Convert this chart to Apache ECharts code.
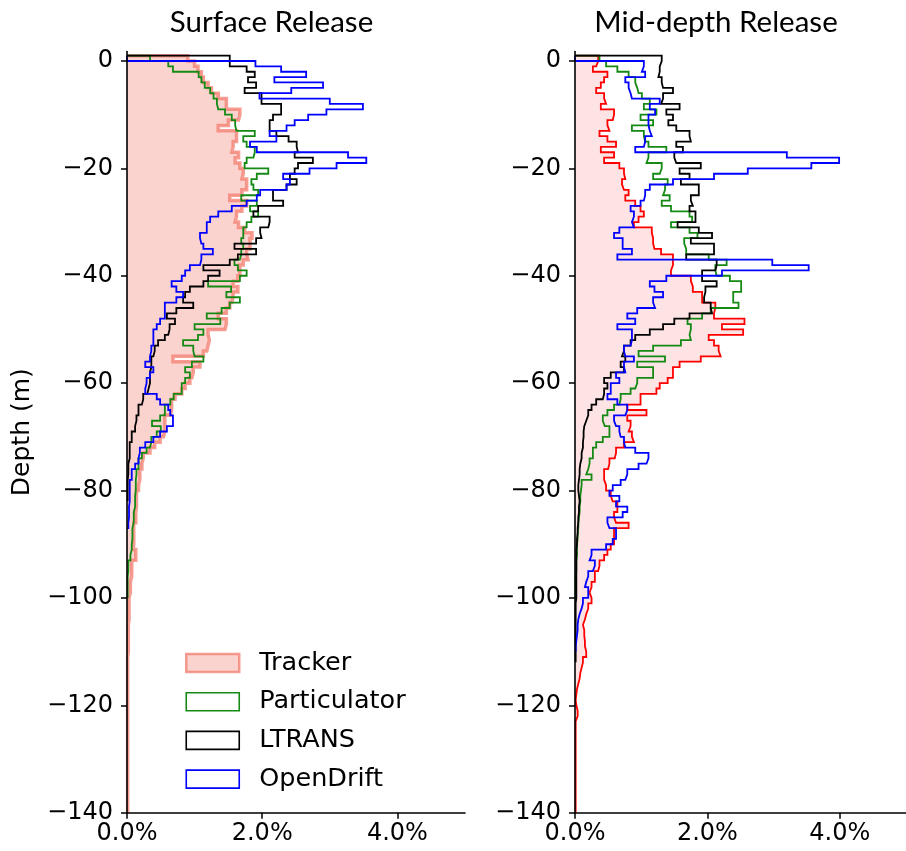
<!DOCTYPE html>
<html>
<head>
<meta charset="utf-8">
<script src="https://cdn.jsdelivr.net/npm/echarts@6.0.0/dist/echarts.min.js"></script>
<style>
  html, body { margin: 0; padding: 0; background: #ffffff; }
  #chart { width: 906px; height: 851px; }
</style>
</head>
<body>
<div id="chart"></div>
<script>
// ---------------- data (percent of particles per 1 m depth bin) ----------------
// Bin 0 spans +1..0 m, bin k spans -(k-1)..-k m.
const binTopEdge = 1;
const binWidth = 1;

const panelTitles = ['Surface Release', 'Mid-depth Release'];
const seriesNames = ['Tracker', 'Particulator', 'LTRANS', 'OpenDrift'];
const xTickValues = [0, 2, 4];
const yTickValues = [-140, -120, -100, -80, -60, -40, -20, 0];

const surfTracker = [
  0.90,
  1.00,1.05,1.10,1.13,1.20,1.25,1.35,1.47,1.47,1.67,
  1.65,1.50,1.35,1.62,1.62,1.57,1.55,1.65,1.60,1.67,
  1.72,1.70,1.77,1.77,1.70,1.52,1.77,1.70,1.62,1.60,
  1.65,1.74,1.85,1.82,1.82,1.77,1.79,1.72,1.67,1.67,
  1.64,1.57,1.64,1.57,1.55,1.52,1.47,1.35,1.47,1.45,
  1.20,1.22,1.20,1.18,1.13,0.68,1.08,0.98,0.96,0.93,
  0.86,0.81,0.71,0.66,0.66,0.64,0.56,0.56,0.56,0.54,
  0.49,0.41,0.34,0.24,0.22,0.22,0.19,0.19,0.17,0.17,
  0.14,0.14,0.14,0.13,0.13,0.13,0.10,0.10,0.10,0.10,
  0.09,0.13,0.13,0.07,0.07,0.07,0.05,0.05,0.05,0.03,
  0.03,0.03,0.03,0.03,0.02,0.02,0.02,0.02,0.02,0.02,
  0.01,0.01,0.01,0.01,0.01,0.01,0.01,0.01,0.01,0.01,
  0.01,0.01,0.01,0.01,0.01,0.01,0.01,0.01,0.01,0.01,
  0.01,0.01,0.01,0.01,0.01,0.01,0.01,0.01,0.01,0.01
];
const surfParticulator = [
  0.34,
  0.61,0.68,1.06,1.10,1.15,1.23,1.28,1.33,1.35,1.45,
  1.55,1.60,1.62,1.89,1.72,1.77,1.89,1.87,1.77,1.74,
  2.09,1.92,1.84,1.87,1.94,1.69,1.92,1.82,1.94,1.84,
  1.77,1.72,1.72,1.69,1.72,1.69,1.67,1.59,1.64,1.77,
  1.67,1.20,1.54,1.47,1.67,1.52,1.40,1.18,1.38,1.00,
  1.13,1.05,0.83,0.98,1.00,1.13,0.96,0.86,0.93,0.86,
  0.81,0.81,0.69,0.64,0.56,0.56,0.49,0.37,0.50,0.44,
  0.36,0.34,0.29,0.22,0.17,0.17,0.14,0.13,0.13,0.13,
  0.12,0.12,0.12,0.10,0.10,0.10,0.08,0.08,0.08,0.07,
  0.07,0.05,0.05,0.02,0.02,0.01,0.01,0.01,0.01,0.01
];
const surfLTRANS = [
  1.52,
  1.52,1.77,1.89,1.79,1.91,1.74,1.99,1.99,2.28,2.28,
  2.16,2.11,2.11,2.21,2.39,2.51,2.53,2.48,2.75,2.53,
  2.48,2.41,2.51,2.36,2.16,2.16,2.31,1.94,1.87,2.11,
  2.09,1.97,1.99,1.91,1.59,1.91,1.64,1.52,1.13,1.37,
  1.20,1.13,0.93,0.86,0.83,0.98,0.73,0.59,0.71,0.63,
  0.61,0.56,0.46,0.41,0.39,0.36,0.36,0.34,0.34,0.34,
  0.32,0.30,0.24,0.22,0.17,0.17,0.14,0.12,0.12,0.07,
  0.07,0.04,0.04,0.04,0.02,0.02,0.02,0.01,0.01,0.01,
  0.01,0.01
];
const surfOpenDrift = [
  0,
  1.90,2.28,2.65,2.18,2.90,2.43,1.96,3.00,3.49,2.95,
  2.68,2.48,2.36,2.11,2.21,1.82,1.92,3.27,3.54,3.10,
  2.70,2.31,2.41,2.36,1.97,1.92,1.77,1.55,1.35,1.23,
  1.18,1.18,1.08,1.10,1.13,1.27,1.10,1.08,0.93,0.86,
  0.81,0.66,0.73,0.83,0.73,0.56,0.56,0.56,0.49,0.44,
  0.39,0.39,0.39,0.36,0.34,0.34,0.27,0.39,0.34,0.29,
  0.27,0.27,0.44,0.49,0.61,0.64,0.68,0.68,0.59,0.49,
  0.39,0.27,0.19,0.17,0.17,0.12,0.07,0.07,0.04,0.04,
  0.04,0.04,0.03,0.03,0.03,0.02,0.02
];

const midTracker = [
  0.35,
  0.32,0.27,0.49,0.44,0.39,0.32,0.44,0.47,0.39,0.59,
  0.57,0.49,0.52,0.37,0.49,0.62,0.39,0.59,0.44,0.67,
  0.74,0.76,0.71,0.74,0.81,0.76,0.91,0.99,1.04,0.96,
  0.89,1.16,1.18,1.18,1.20,1.30,1.48,1.48,1.45,1.45,
  1.75,1.78,1.78,1.92,1.92,2.12,2.10,2.10,2.56,2.22,
  2.54,2.02,2.10,2.17,2.20,1.90,1.58,1.48,1.48,1.40,
  1.28,1.23,0.99,0.99,0.79,1.08,0.79,0.84,0.81,0.86,
  0.89,0.74,0.62,0.60,0.52,0.50,0.44,0.44,0.47,0.47,
  0.54,0.57,0.64,0.64,0.59,0.62,0.81,0.59,0.59,0.59,
  0.54,0.49,0.44,0.37,0.35,0.30,0.30,0.25,0.22,0.25,
  0.25,0.20,0.17,0.15,0.12,0.14,0.14,0.15,0.15,0.17,
  0.17,0.12,0.10,0.08,0.07,0.05,0.03,0.02,0.01,0.02,
  0.04,0.04,0.01,0.01,0.01,0.01,0.01,0.01,0.01,0.01,
  0.01,0.01,0.01,0.01,0.01,0.01,0.01,0.01,0.01,0.01
];
const midParticulator = [
  0.37,
  0.47,0.64,0.81,0.91,0.94,0.96,1.01,1.13,1.04,1.23,
  0.99,1.18,0.86,1.04,1.06,1.11,1.38,1.11,1.08,1.31,
  1.28,1.18,1.40,1.36,1.33,1.43,1.31,1.45,1.73,1.77,
  1.45,1.73,1.85,1.65,1.68,1.68,2.02,2.29,2.12,2.14,
  2.34,2.51,2.51,2.39,2.39,2.47,2.05,1.92,1.70,1.75,
  1.73,1.75,1.60,1.18,0.96,1.36,0.94,1.18,1.18,0.94,
  0.91,0.84,0.69,0.67,0.59,0.49,0.42,0.45,0.52,0.52,
  0.42,0.32,0.27,0.27,0.22,0.20,0.17,0.25,0.10,0.09,
  0.08,0.08,0.07,0.07,0.06,0.05,0.05,0.04,0.04,0.03,
  0.03,0.03,0.02,0.02,0.02,0.01,0.01,0.01,0.01,0.01
];
const midLTRANS = [
  1.31,
  1.28,1.28,1.26,1.31,1.33,1.48,1.33,1.30,1.58,1.38,
  1.48,1.41,1.53,1.73,1.75,1.53,1.63,1.50,1.53,1.90,
  1.58,1.73,1.60,1.87,1.87,1.75,1.78,1.73,1.82,1.82,
  1.55,1.87,2.07,1.75,2.10,2.10,1.68,2.14,2.12,1.92,
  1.92,2.14,1.97,1.95,1.95,2.05,2.07,1.73,1.50,1.33,
  1.13,0.91,0.84,0.74,0.71,0.76,0.69,0.74,0.54,0.44,
  0.49,0.44,0.42,0.32,0.25,0.20,0.17,0.14,0.13,0.13,
  0.12,0.12,0.10,0.10,0.08,0.07,0.07,0.06,0.05,0.05,
  0.06,0.07,0.06,0.06,0.05,0.05,0.04,0.04,0.03,0.03,
  0.02,0.02,0.02,0.02,0.02,0.02,0.02,0.02,0.02,0.02,
  0.01,0.01,0.01,0.01,0.01,0.01,0.01,0.01,0.01,0.01,
  0.01,0.01
];
const midOpenDrift = [
  0,
  1.04,1.01,1.06,0.76,0.81,0.84,0.86,1.28,1.13,1.21,
  1.11,1.11,1.13,1.16,1.06,1.04,0.91,3.20,3.99,3.57,
  2.61,2.10,1.48,1.13,1.06,1.04,0.99,0.84,0.89,0.86,
  0.89,0.67,0.59,0.72,0.72,0.86,0.64,2.98,3.53,2.22,
  1.38,1.13,1.20,1.33,1.18,1.21,0.94,0.79,0.91,0.64,
  0.86,0.86,0.84,0.74,0.76,0.89,0.74,0.76,0.62,0.67,
  0.54,0.54,0.49,0.64,0.79,0.76,0.59,0.62,0.67,0.69,
  0.74,0.76,0.91,1.11,1.08,0.96,0.79,0.76,0.69,0.57,
  0.52,0.67,0.62,0.79,0.72,0.49,0.52,0.62,0.62,0.57,
  0.47,0.25,0.22,0.30,0.27,0.20,0.17,0.15,0.20,0.20,
  0.12,0.10,0.07,0.05,0.04,0.04,0.03,0.02,0.01,0.01
];

// ---------------- helpers ----------------
const FONT = 'DejaVu Sans';
const TITLE_FONT = 'Lato';

// outline of a step histogram (horizontal orientation) built from bin values
function stepPoints(vals) {
  const pts = [[0, binTopEdge]];
  vals.forEach((v, i) => {
    const top = binTopEdge - i * binWidth;
    const bot = top - binWidth;
    pts.push([v, top], [v, bot]);
  });
  pts.push([0, binTopEdge - vals.length * binWidth]);
  return pts;
}

function fillSeries(vals, idx, color, name) {
  return {
    type: 'custom', name: name, xAxisIndex: idx, yAxisIndex: idx,
    z: 1, silent: true, animation: false, clip: true,
    data: vals.map((v, i) => [v, binTopEdge - i * binWidth, binTopEdge - (i + 1) * binWidth]),
    encode: { x: 0, y: [1, 2] },
    renderItem: function (params, api) {
      const a = api.coord([0, api.value(1)]);
      const b = api.coord([api.value(0), api.value(2)]);
      return {
        type: 'rect',
        shape: { x: a[0], y: a[1] - 0.4, width: b[0] - a[0], height: b[1] - a[1] + 0.8 },
        style: { fill: color }
      };
    }
  };
}

function lineSeries(vals, idx, color, width, name, z) {
  return {
    type: 'line', name: name, xAxisIndex: idx, yAxisIndex: idx,
    data: stepPoints(vals),
    showSymbol: false, symbol: 'none', silent: true, animation: false, clip: true,
    z: z,
    lineStyle: { color: color, width: width, join: 'miter' },
    itemStyle: { color: color }
  };
}

const tickLabelStyle = { fontFamily: FONT, fontSize: 24, color: '#000' };

function makeXAxis(idx) {
  return {
    type: 'value', gridIndex: idx, min: 0, max: 5, interval: 1, z: 10,
    axisLine: { show: true, onZero: false, lineStyle: { color: '#000', width: 1.6 } },
    axisTick: { show: true, length: 6, customValues: xTickValues, lineStyle: { color: '#000', width: 1.5 } },
    axisLabel: Object.assign({
      customValues: xTickValues, margin: 9,
      formatter: v => v.toFixed(1) + '%'
    }, tickLabelStyle),
    splitLine: { show: false }
  };
}
function makeYAxis(idx, withName) {
  const ax = {
    type: 'value', gridIndex: idx, min: -140, max: 1.75, interval: 20, z: 10,
    axisLine: { show: true, onZero: false, lineStyle: { color: '#000', width: 1.6 } },
    axisTick: { show: true, length: 6, customValues: yTickValues, lineStyle: { color: '#000', width: 1.5 } },
    axisLabel: Object.assign({
      customValues: yTickValues, margin: 14,
      formatter: v => (v === 0 ? '0' : (v < 0 ? '\u2212' + Math.abs(v) : String(v)))
    }, tickLabelStyle),
    splitLine: { show: false }
  };
  if (withName) {
    ax.name = 'Depth (m)';
    ax.nameLocation = 'middle';
    ax.nameGap = 92;
    ax.nameTextStyle = { fontFamily: FONT, fontSize: 25, color: '#000' };
  }
  return ax;
}

const colTrackerSurfFill = '#fad3ce';
const colTrackerSurfEdge = 'rgba(242,120,105,0.72)';
const colTrackerMidFill = '#fde3e3';
const colTrackerMidEdge = '#ff0000';
const colParticulator = '#148a14';
const colLTRANS = '#000000';
const colOpenDrift = '#0000ff';
const LW = 1.8;

const chart = echarts.init(document.getElementById('chart'), null, { renderer: 'canvas' });

const titleStyle = { fontFamily: TITLE_FONT, fontSize: 29.5, fontWeight: 'normal', color: '#000' };

chart.setOption({
  backgroundColor: '#ffffff',
  animation: false,
  title: [
    { text: panelTitles[0], left: 271.5, top: 7, textAlign: 'center', padding: 0, textStyle: titleStyle },
    { text: panelTitles[1], left: 716, top: 7, textAlign: 'center', padding: 0, textStyle: titleStyle }
  ],
  grid: [
    { left: 127, top: 51.6, width: 338, height: 761.1, containLabel: false },
    { left: 575, top: 51.6, width: 338.4, height: 761.1, containLabel: false }
  ],
  xAxis: [makeXAxis(0), makeXAxis(1)],
  yAxis: [makeYAxis(0, true), makeYAxis(1, false)],
  legend: {
    orient: 'vertical', left: 185, top: 650, padding: 0,
    itemWidth: 53, itemHeight: 18, itemGap: 12.7,
    selectedMode: false,
    textStyle: { fontFamily: FONT, fontSize: 25.5, color: '#000', padding: [0, 0, 0, 15] },
    data: [
      { name: seriesNames[0], icon: 'rect', itemStyle: { color: colTrackerSurfFill, borderColor: colTrackerSurfEdge, borderWidth: 2.5 } },
      { name: seriesNames[1], icon: 'rect', itemStyle: { color: '#ffffff', borderColor: colParticulator, borderWidth: 1.6 } },
      { name: seriesNames[2], icon: 'rect', itemStyle: { color: '#ffffff', borderColor: colLTRANS, borderWidth: 1.6 } },
      { name: seriesNames[3], icon: 'rect', itemStyle: { color: '#ffffff', borderColor: colOpenDrift, borderWidth: 1.6 } }
    ]
  },
  series: [
    fillSeries(surfTracker, 0, colTrackerSurfFill, seriesNames[0]),
    lineSeries(surfTracker, 0, colTrackerSurfEdge, 3.5, seriesNames[0], 2),
    lineSeries(surfParticulator, 0, colParticulator, LW, seriesNames[1], 3),
    lineSeries(surfLTRANS, 0, colLTRANS, LW, seriesNames[2], 4),
    lineSeries(surfOpenDrift, 0, colOpenDrift, LW, seriesNames[3], 5),

    fillSeries(midTracker, 1, colTrackerMidFill, seriesNames[0]),
    lineSeries(midTracker, 1, colTrackerMidEdge, LW, seriesNames[0], 2),
    lineSeries(midParticulator, 1, colParticulator, LW, seriesNames[1], 3),
    lineSeries(midLTRANS, 1, colLTRANS, LW, seriesNames[2], 4),
    lineSeries(midOpenDrift, 1, colOpenDrift, LW, seriesNames[3], 5)
  ]
});
</script>
</body>
</html>
